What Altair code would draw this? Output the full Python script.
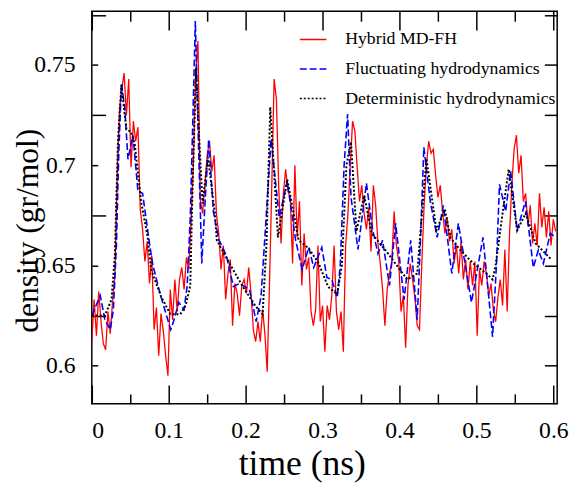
import altair as alt
import pandas as pd

# ---------------- data ----------------
series_names = ["Hybrid MD-FH", "Fluctuating hydrodynamics", "Deterministic hydrodynamics"]
series_colors = ["#ff0000", "#0000ff", "#000000"]

# Hybrid MD-FH: sampled every 0.003 ns starting at 0
red_step = 0.003
red_v = [
    0.612, 0.633, 0.615, 0.637, 0.622, 0.611, 0.608, 0.627, 0.616, 0.632,
    0.645, 0.697, 0.728, 0.738, 0.746, 0.725, 0.743, 0.699, 0.722, 0.712,
    0.719, 0.678, 0.668, 0.652, 0.662, 0.641, 0.655, 0.618, 0.629, 0.605,
    0.626, 0.617, 0.605, 0.595, 0.638, 0.623, 0.643, 0.627, 0.643, 0.649,
    0.638, 0.654, 0.648, 0.672, 0.700, 0.745, 0.762, 0.683, 0.676, 0.690,
    0.705, 0.712, 0.697, 0.705, 0.676, 0.666, 0.648, 0.660, 0.633, 0.646,
    0.653, 0.620, 0.641, 0.636, 0.625, 0.640, 0.643, 0.636, 0.649, 0.636,
    0.618, 0.612, 0.622, 0.612, 0.628, 0.616, 0.597, 0.641, 0.690, 0.743,
    0.733, 0.689, 0.661, 0.686, 0.698, 0.687, 0.684, 0.651, 0.700, 0.664,
    0.682, 0.640, 0.666, 0.648, 0.654, 0.627, 0.620, 0.628, 0.660, 0.622,
    0.630, 0.607, 0.630, 0.623, 0.635, 0.660, 0.627, 0.618, 0.627, 0.607,
    0.660, 0.676, 0.700, 0.722, 0.717, 0.699, 0.682, 0.690, 0.676, 0.668,
    0.679, 0.657, 0.690, 0.680, 0.661, 0.651, 0.638, 0.620, 0.638, 0.646,
    0.652, 0.677, 0.660, 0.652, 0.627, 0.635, 0.609, 0.640, 0.651, 0.643,
    0.634, 0.620, 0.618, 0.651, 0.680, 0.700, 0.712, 0.706, 0.708, 0.695,
    0.684, 0.690, 0.677, 0.666, 0.674, 0.662, 0.668, 0.651, 0.660, 0.646,
    0.662, 0.643, 0.653, 0.638, 0.652, 0.640, 0.652, 0.615, 0.648, 0.640,
    0.652, 0.646, 0.635, 0.641, 0.628, 0.622, 0.634, 0.643, 0.630, 0.658,
    0.627, 0.665, 0.690, 0.708, 0.715, 0.696, 0.705, 0.682, 0.686, 0.670,
    0.680, 0.661, 0.671, 0.660, 0.686, 0.669, 0.679, 0.664, 0.677, 0.660,
    0.673, 0.667,
]
red_t = [round(i * red_step, 4) for i in range(len(red_v))]

blue_t = [0.000, 0.011, 0.017, 0.024, 0.028, 0.032, 0.035, 0.0385, 0.043, 0.047,
          0.0535, 0.060, 0.066, 0.075, 0.079, 0.086, 0.092, 0.1026, 0.107, 0.113,
          0.120, 0.124, 0.128, 0.1315, 0.1346, 0.138, 0.143, 0.147, 0.152, 0.158,
          0.165, 0.175, 0.184, 0.192, 0.205, 0.2137, 0.220, 0.226, 0.233, 0.2437,
          0.254, 0.265, 0.2735, 0.282, 0.2885, 0.299, 0.3056, 0.312, 0.319, 0.323,
          0.328, 0.3325, 0.337, 0.346, 0.357, 0.365, 0.372, 0.378, 0.387, 0.395,
          0.406, 0.4146, 0.423, 0.427, 0.4317, 0.440, 0.449, 0.457, 0.468, 0.4765,
          0.4936, 0.5086, 0.521, 0.526, 0.530, 0.538, 0.5445, 0.553, 0.5637, 0.574,
          0.5805, 0.587, 0.596, 0.603]
blue_v = [0.625, 0.635, 0.623, 0.618, 0.628, 0.660, 0.705, 0.741, 0.728, 0.703,
          0.715, 0.687, 0.686, 0.661, 0.651, 0.640, 0.6316, 0.618, 0.623, 0.6316,
          0.628, 0.640, 0.674, 0.725, 0.772, 0.720, 0.651, 0.680, 0.713, 0.677,
          0.663, 0.655, 0.6395, 0.641, 0.638, 0.622, 0.6346, 0.670, 0.713, 0.674,
          0.692, 0.6626, 0.648, 0.659, 0.649, 0.659, 0.644, 0.643, 0.634, 0.650,
          0.700, 0.7255, 0.684, 0.658, 0.691, 0.668, 0.656, 0.6626, 0.640, 0.671,
          0.633, 0.6626, 0.623, 0.660, 0.709, 0.682, 0.664, 0.680, 0.646, 0.671,
          0.6316, 0.664, 0.6144, 0.650, 0.6905, 0.677, 0.697, 0.6675, 0.682, 0.649,
          0.6577, 0.651, 0.666, 0.664]

black_t = [0.000, 0.017, 0.0256, 0.030, 0.034, 0.0385, 0.045, 0.051, 0.056, 0.064,
           0.0727, 0.077, 0.090, 0.102, 0.115, 0.122, 0.128, 0.131, 0.1355, 0.140,
           0.144, 0.151, 0.160, 0.1625, 0.179, 0.197, 0.213, 0.222, 0.227, 0.232,
           0.242, 0.254, 0.269, 0.282, 0.295, 0.307, 0.319, 0.325, 0.331, 0.337,
           0.344, 0.354, 0.364, 0.385, 0.410, 0.423, 0.428, 0.435, 0.448, 0.459,
           0.466, 0.479, 0.496, 0.513, 0.521, 0.525, 0.534, 0.542, 0.553, 0.564,
           0.577, 0.598]
black_v = [0.625, 0.625, 0.633, 0.655, 0.712, 0.740, 0.718, 0.7167, 0.710, 0.682,
           0.664, 0.648, 0.6346, 0.6257, 0.6257, 0.630, 0.640, 0.690, 0.7486, 0.710,
           0.681, 0.704, 0.676, 0.6626, 0.651, 0.639, 0.6297, 0.6257, 0.660, 0.729,
           0.664, 0.693, 0.6625, 0.6586, 0.651, 0.6395, 0.6356, 0.650, 0.700, 0.7117,
           0.667, 0.685, 0.666, 0.656, 0.643, 0.646, 0.670, 0.7034, 0.6675, 0.678,
           0.664, 0.6577, 0.651, 0.646, 0.643, 0.650, 0.676, 0.698, 0.6675, 0.676,
           0.661, 0.6527]

x_ticks = [0.0, 0.05, 0.1, 0.15, 0.2, 0.25, 0.3, 0.35, 0.4, 0.45, 0.5, 0.55, 0.6]
x_labels = [0.0, 0.1, 0.2, 0.3, 0.4, 0.5, 0.6]
y_ticks = [0.6, 0.625, 0.65, 0.675, 0.7, 0.725, 0.75, 0.775]
y_labels = [0.6, 0.65, 0.7, 0.75]
x_domain = [0.0, 0.605]
y_domain = [0.581, 0.7768]

# ---------------- chart ----------------
W, H = 472, 398
FONT = "Liberation Serif"

df_red = pd.DataFrame({"t": red_t, "v": red_v, "series": series_names[0]})
df_blue = pd.DataFrame({"t": blue_t, "v": blue_v, "series": series_names[1]})
df_black = pd.DataFrame({"t": black_t, "v": black_v, "series": series_names[2]})

xs = alt.Scale(domain=x_domain, nice=False, zero=False)
ys = alt.Scale(domain=y_domain, nice=False, zero=False)
cs = alt.Scale(domain=series_names, range=series_colors)
ds = alt.Scale(domain=series_names, range=[[1, 0], [7, 3], [2, 2]])

legend = alt.Legend(
    title=None, orient="none", legendX=210, legendY=14,
    symbolType="stroke", symbolSize=729, symbolStrokeWidth=1.5,
    labelFont=FONT, labelFontSize=18, labelColor="black", labelLimit=400,
    labelOffset=18, rowPadding=6, padding=0,
)

x_major = "abs(datum.value*10 - round(datum.value*10)) < 0.001"
y_major = "abs(datum.value*20 - round(datum.value*20)) < 0.001"

ax_x_main = alt.Axis(orient="bottom", values=x_labels, ticks=False, domain=False, grid=False,
                     labelFont=FONT, labelFontSize=24, labelColor="black", labelPadding=15,
                     labelExpr="datum.value == 0 ? '0' : format(datum.value, '.1f')",
                     title="time (ns)", titleFont=FONT, titleFontSize=36, titleFontWeight="normal",
                     titleColor="black", titleX=213, titleY=72, titleAlign="center",
                     titleBaseline="alphabetic")
ax_y_main = alt.Axis(orient="left", values=y_labels, ticks=False, domain=False, grid=False,
                     labelFont=FONT, labelFontSize=24, labelColor="black", labelPadding=17,
                     labelExpr="format(datum.value, '.2~f')",
                     title="density (gr/mol)", titleFont=FONT, titleFontSize=32,
                     titleFontWeight="normal", titleColor="black", titleAngle=270,
                     titleX=-55, titleY=222, titleAlign="center", titleBaseline="alphabetic")

tick_common = dict(labels=False, domain=False, grid=False, title=None,
                   tickColor="black", tickWidth=1.5)
ax_x_bottom_in = alt.Axis(orient="top", offset=-H, values=x_ticks,
                          tickSize={"condition": {"test": x_major, "value": 19}, "value": 10},
                          **tick_common)
ax_x_top_in = alt.Axis(orient="bottom", offset=-H, values=x_ticks,
                       tickSize={"condition": {"test": x_major, "value": 19}, "value": 10},
                       **tick_common)
ax_y_left_in = alt.Axis(orient="right", offset=-W, values=y_ticks,
                        tickSize={"condition": {"test": y_major, "value": 6}, "value": 14},
                        **tick_common)
ax_y_right_in = alt.Axis(orient="left", offset=-W, values=y_ticks, tickSize=13, **tick_common)


def layer(df, width, x_axis, y_axis):
    return alt.Chart(df).mark_line(strokeWidth=width, clip=True).encode(
        x=alt.X("t:Q", scale=xs, axis=x_axis),
        y=alt.Y("v:Q", scale=ys, axis=y_axis),
        color=alt.Color("series:N", scale=cs, legend=legend),
        strokeDash=alt.StrokeDash("series:N", scale=ds, legend=legend),
        order=alt.Order("t:Q"),
    )


red = layer(df_red, 1.3, ax_x_main, ax_y_main)
blue = layer(df_blue, 1.6, ax_x_bottom_in, ax_y_left_in)
black = layer(df_black, 2.0, ax_x_top_in, ax_y_right_in)

chart = alt.layer(red, blue, black).resolve_scale(
    x="independent", y="independent"
).properties(
    width=W, height=H,
    autosize=alt.AutoSizeParams(type="none"),
    padding={"left": 85, "top": 0, "right": 13, "bottom": 80},
    background="white",
).configure_view(
    stroke="black", strokeWidth=1.5
).configure_axis(
    labelFont=FONT, titleFont=FONT
).configure_legend(
    labelFont=FONT
).configure_text(font=FONT)

chart.save("out.html", embed_options={"renderer": "svg", "actions": False})
